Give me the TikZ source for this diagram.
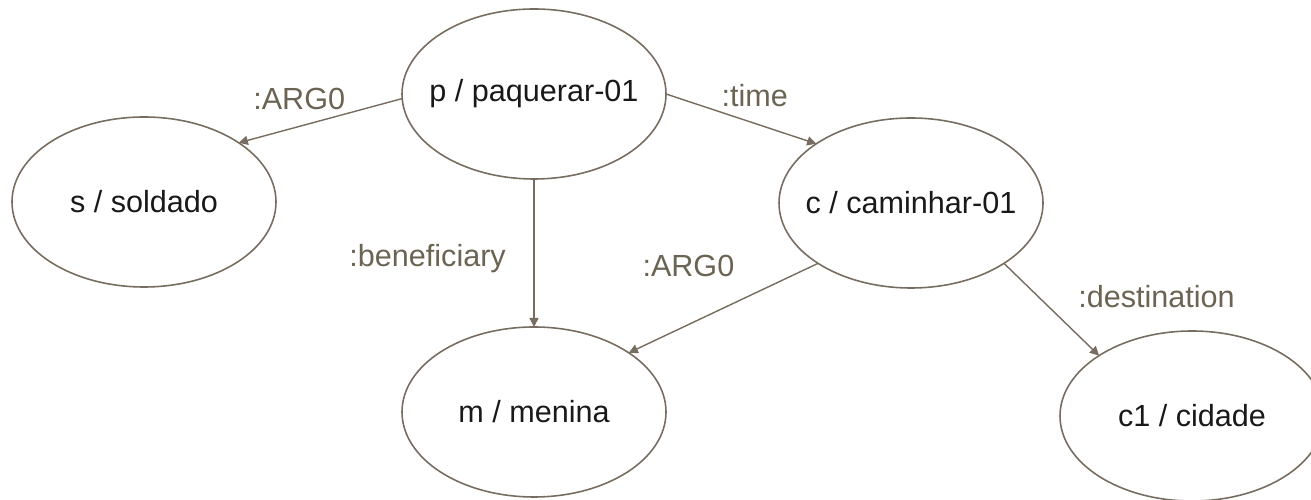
\documentclass[tikz,border=0pt]{standalone}
\usepackage{fontspec}
\setmainfont{Liberation Sans}
\usepackage{xcolor}
\usetikzlibrary{shapes,arrows.meta,positioning}

\definecolor{edgegray}{HTML}{766C60}
\definecolor{labelgray}{HTML}{6C6453}

\begin{document}
\begin{tikzpicture}[
    concept/.style={ellipse, draw=edgegray, line width=0.45pt, minimum width=2.64cm, minimum height=1.70cm, inner ysep=0pt, inner xsep=-0.35cm, outer sep=0pt, font=\fontsize{8.7}{10}\selectfont, text=black!90},
    role/.style={draw=edgegray, line width=0.4pt, -{Triangle[length=2.6pt,width=2.6pt]}},
    rolelabel/.style={inner sep=1pt, text=labelgray, font=\fontsize{8.7}{10}\selectfont}
]
    \useasboundingbox (0,0) rectangle (13.11,5.00);

    \node[concept] (p) at (5.34, 4.06) {p / paquerar-01};
    \node[concept] (s) at (1.44, 2.98) {s / soldado};
    \node[concept] (c) at (9.11, 2.97) {c / caminhar-01};
    \node[concept] (m) at (5.34, 0.88) {m / menina};
    \node[concept] (c1) at (11.92, 0.84) {c1 / cidade};

    \draw[role] (p.182) -- (s.32) node[rolelabel, pos=0.63, above=0.12cm] {:ARG0};
    \draw[role] (p.east) -- (c.148) node[rolelabel, pos=0.59, above=0.12cm] {:time};
    \draw[role] (p.south) -- (m.north) node[rolelabel, pos=0.54, left=0.24cm] {:beneficiary};
    \draw[role] (c.213) -- (m.32) node[rolelabel, pos=0.5, xshift=-0.35cm, yshift=0.42cm] {:ARG0};
    \draw[role] (c.327) -- (c1.147) node[rolelabel, pos=0.5, xshift=1.05cm, yshift=0.13cm] {:destination};
\end{tikzpicture}
\end{document}
